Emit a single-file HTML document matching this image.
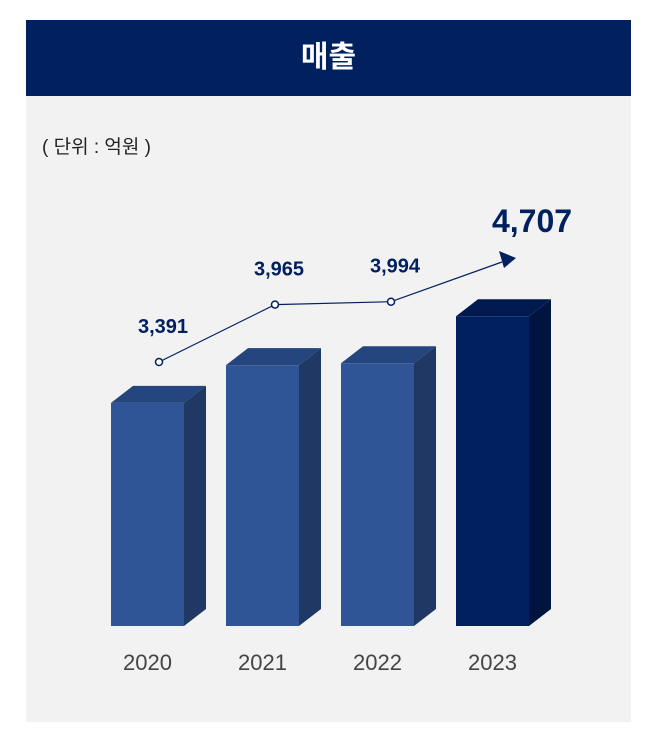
<!DOCTYPE html>
<html><head><meta charset="utf-8">
<style>
body{margin:0;width:649px;height:737px;background:#fff;overflow:hidden;font-family:"Liberation Sans","Noto Sans CJK KR",sans-serif;}
#hdr{position:absolute;left:26px;top:20px;width:605px;height:76px;background:#002060;color:#fff;font-size:30px;font-weight:bold;text-align:center;line-height:76px;}
#panel{position:absolute;left:26px;top:96px;width:605px;height:626px;background:#f2f2f2;}
#unit{position:absolute;left:42px;top:132px;font-size:19px;color:#222;}
svg{position:absolute;left:0;top:0;}
</style></head><body>
<div id="hdr">매출</div>
<div id="panel"></div>
<div id="unit">( 단위 : 억원 )</div>
<svg id="chart" width="649" height="737"></svg>
<script>
const categories=["2020","2021","2022","2023"];
const values=[3391,3965,3994,4707];
const labels=["3,391","3,965","3,994","4,707"];
const NS="http://www.w3.org/2000/svg";
const svg=document.getElementById('chart');
const baseY=626, k=0.0658;
function yBar(v){return baseY-v*k;}
function xBar(i){return 111+i*115;}
function yPt(v){return 362-(v-3391)*0.1;}
function xPt(i){return 159+i*116;}
const bw=73, dx=22, dy=17;
function mk(t,a){const e=document.createElementNS(NS,t);for(const k in a)e.setAttribute(k,a[k]);svg.appendChild(e);return e;}
values.forEach((v,i)=>{
  const last=i===values.length-1;
  const x=xBar(i), y=yBar(v);
  const g=document.createElementNS(NS,'g');svg.appendChild(g);
  
  
  const c=last?["#002060","#001a50","#00143f"]:["#2f5597","#25457e","#1f3864"];
  [[`${x},${y} ${x+bw},${y} ${x+bw+dx},${y-dy} ${x+dx},${y-dy}`,c[1]],
   [`${x+bw},${y} ${x+bw+dx},${y-dy} ${x+bw+dx},${baseY-dy} ${x+bw},${baseY}`,c[2]],
   [`${x},${y} ${x+bw},${y} ${x+bw},${baseY} ${x},${baseY}`,c[0]]].forEach(p=>{
    const e=document.createElementNS(NS,'polygon');e.setAttribute('points',p[0]);e.setAttribute('fill',p[1]);g.appendChild(e);});
  const t=mk('text',{x:x+bw/2,y:670,'text-anchor':'middle','font-size':22,fill:'#444'});
  t.textContent=categories[i];
  
  
});
// line
const pts=values.slice(0,3).map((v,i)=>[xPt(i),yPt(v)]);
const endX=516,endY=258;
const line=mk('polyline',{points:pts.map(p=>p.join(',')).join(' ')+` ${endX-14},${endY+4}`,fill:'none',stroke:'#002060','stroke-width':1.2});


const arr=mk('polygon',{points:`${endX},${endY} ${499},${251} ${504},${268}`,fill:'#002060'});


pts.forEach((p,i)=>{
  const c=mk('circle',{cx:p[0],cy:p[1],r:3.5,fill:'#fff',stroke:'#002060','stroke-width':1.5});
  
  
  const t=mk('text',{x:p[0]+4,y:p[1]-29,'text-anchor':'middle','font-size':20,'font-weight':'bold',fill:'#002060'});
  t.textContent=labels[i];
  
  
});
const tl=mk('text',{x:532,y:232,'text-anchor':'middle','font-size':32,'font-weight':'bold',fill:'#002060'});
tl.textContent=labels[3];


</script>
</body></html>
